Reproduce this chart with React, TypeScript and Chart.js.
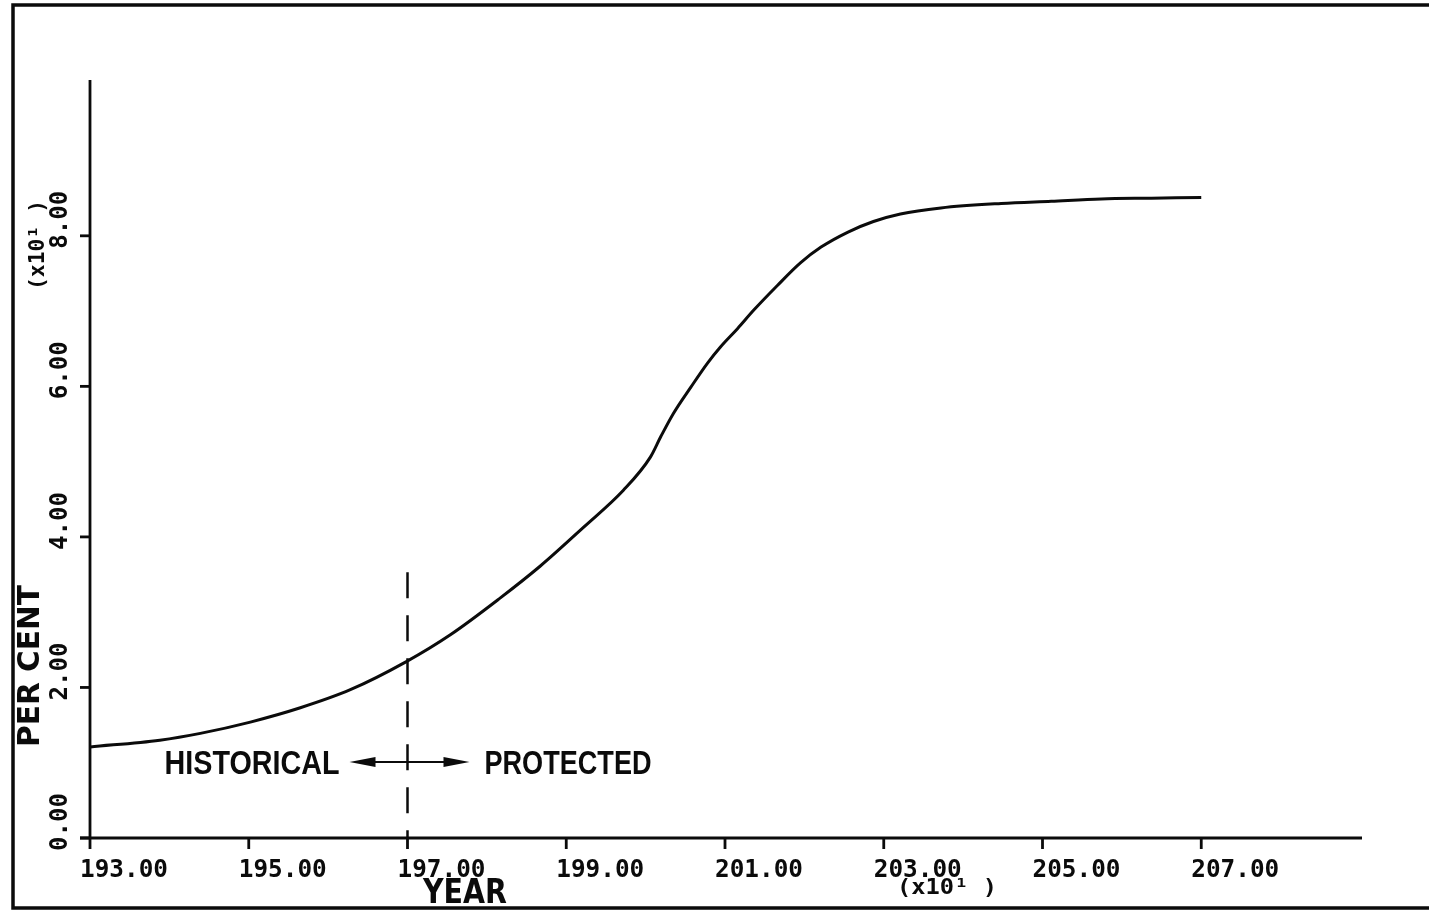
import { useEffect, useRef } from "react";
import { Chart, registerables } from "chart.js";

Chart.register(...registerables);

// Share of total (per cent) by year; the plot shows both axes in units of ten.
const years = [
  1930, 1938.8, 1943.9, 1950.2, 1956.5, 1962.8, 1969.8, 1975.4, 1981.7, 1986.7,
  1992.2, 1997.2, 2000.6, 2001.9, 2003.5, 2005.7, 2007.8, 2009.4, 2011.6, 2013.6,
  2016.6, 2019.5, 2022.1, 2025.5, 2028.7, 2032.1, 2037.2, 2044.8, 2051.1, 2057.4,
  2063.7, 2070,
];
const perCent = [
  12.1, 13.0, 13.9, 15.4, 17.3, 19.7, 23.4, 27.0, 31.9, 36.1,
  41.3, 46.2, 50.6, 53.3, 56.4, 59.9, 63.1, 65.2, 67.7, 70.1,
  73.4, 76.4, 78.5, 80.5, 81.9, 82.9, 83.7, 84.3, 84.6, 84.9,
  85.0, 85.1,
];

const xTicks = [1930, 1950, 1970, 1990, 2010, 2030, 2050, 2070];
const yTicks = [0, 20, 40, 60, 80];

// Boundary between the recorded and the projected part of the series.
const splitYear = 1970;
const splitTop = 35.3;

const INK = "#0b0b0b";
const MONO = "'DejaVu Sans Mono', monospace";
const SANS = "'Liberation Sans', Arial, sans-serif";
const PLOT = "'DejaVu Sans', sans-serif";

const fmt = (v: number) => (v / 10).toFixed(2);

function stretchText(
  ctx: CanvasRenderingContext2D,
  text: string,
  x: number,
  y: number,
  width: number
) {
  const w = ctx.measureText(text).width;
  ctx.save();
  ctx.translate(x, y);
  ctx.scale(width / w, 1);
  ctx.fillText(text, 0, 0);
  ctx.restore();
}

const plotterFrame = {
  id: "plotterFrame",
  afterDraw(chart: any) {
    const { ctx, chartArea, scales } = chart;
    const xs = scales.x;
    const ys = scales.y;
    const W = chart.width;
    ctx.save();
    ctx.strokeStyle = INK;
    ctx.fillStyle = INK;
    ctx.lineCap = "butt";

    // page frame
    ctx.lineWidth = 3.5;
    ctx.beginPath();
    ctx.moveTo(W, 5);
    ctx.lineTo(13, 5);
    ctx.lineTo(13, 908);
    ctx.lineTo(W, 908);
    ctx.stroke();

    const x0 = chartArea.left;
    const yBase = ys.getPixelForValue(0);

    // axes
    ctx.lineWidth = 2.8;
    ctx.beginPath();
    ctx.moveTo(x0, chartArea.top);
    ctx.lineTo(x0, yBase);
    ctx.moveTo(x0 - 10, yBase);
    ctx.lineTo(chartArea.right + 2, yBase);
    ctx.stroke();

    // x ticks and labels
    ctx.font = `bold 24px ${MONO}`;
    ctx.textAlign = "left";
    ctx.textBaseline = "alphabetic";
    xTicks.forEach((v) => {
      const px = xs.getPixelForValue(v);
      ctx.beginPath();
      ctx.moveTo(px, yBase);
      ctx.lineTo(px, yBase + 11);
      ctx.stroke();
      stretchText(ctx, fmt(v), px - 10, 877, 88);
    });

    // y ticks and labels (rotated)
    yTicks.forEach((v) => {
      const py = ys.getPixelForValue(v);
      ctx.beginPath();
      ctx.moveTo(x0 - 10, py);
      ctx.lineTo(x0, py);
      ctx.stroke();
      ctx.save();
      ctx.translate(61, py + 13);
      ctx.rotate(-Math.PI / 2);
      ctx.textAlign = "left";
      ctx.textBaseline = "middle";
      stretchText(ctx, fmt(v), 0, 0, 58);
      ctx.restore();
    });

    // scale multipliers
    ctx.font = `bold 21px ${MONO}`;
    ctx.textAlign = "left";
    ctx.textBaseline = "alphabetic";
    stretchText(ctx, "(x10\u00b9 )", 897, 894, 100);
    ctx.save();
    ctx.translate(39, 290);
    ctx.rotate(-Math.PI / 2);
    ctx.textBaseline = "middle";
    stretchText(ctx, "(x10\u00b9 )", 0, 0, 90);
    ctx.restore();

    // axis titles
    ctx.font = `bold 34px ${PLOT}`;
    ctx.textBaseline = "alphabetic";
    stretchText(ctx, "YEAR", 423, 903, 84);
    ctx.save();
    ctx.translate(31, 747);
    ctx.rotate(-Math.PI / 2);
    ctx.font = `bold 30px ${PLOT}`;
    ctx.textBaseline = "middle";
    stretchText(ctx, "PER CENT", 0, 0, 162);
    ctx.restore();

    // dashed divider
    const sx = xs.getPixelForValue(splitYear);
    ctx.lineWidth = 2.5;
    ctx.setLineDash([26, 17]);
    ctx.beginPath();
    ctx.moveTo(sx, ys.getPixelForValue(splitTop));
    ctx.lineTo(sx, yBase);
    ctx.stroke();
    ctx.setLineDash([]);

    // double-headed arrow
    const ay = 762;
    const left = sx - 58;
    const right = sx + 62;
    ctx.lineWidth = 2;
    ctx.beginPath();
    ctx.moveTo(left + 20, ay);
    ctx.lineTo(right - 20, ay);
    ctx.stroke();
    ctx.beginPath();
    ctx.moveTo(left, ay);
    ctx.lineTo(left + 26, ay - 5);
    ctx.lineTo(left + 26, ay + 5);
    ctx.closePath();
    ctx.moveTo(right, ay);
    ctx.lineTo(right - 26, ay - 5);
    ctx.lineTo(right - 26, ay + 5);
    ctx.closePath();
    ctx.fill();

    // region labels
    ctx.font = `bold 33px ${SANS}`;
    ctx.textBaseline = "alphabetic";
    stretchText(ctx, "HISTORICAL", sx - 243, 774, 175);
    stretchText(ctx, "PROTECTED", sx + 77, 774, 167);

    ctx.restore();
  },
};

export default function App() {
  const canvasRef = useRef<HTMLCanvasElement | null>(null);

  useEffect(() => {
    const canvas = canvasRef.current;
    if (!canvas) return;
    const chart = new Chart(canvas, {
      type: "line",
      data: {
        datasets: [
          {
            data: years.map((yr, i) => ({ x: yr, y: perCent[i] })),
            borderColor: INK,
            borderWidth: 3,
            pointRadius: 0,
            cubicInterpolationMode: "monotone",
            fill: false,
          },
        ],
      },
      options: {
        responsive: false,
        animation: false,
        devicePixelRatio: 1,
        layout: { padding: { left: 90, right: 69, top: 80, bottom: 74 } },
        scales: {
          x: { type: "linear", min: 1930, max: 2090, display: false },
          y: { type: "linear", min: 0, max: 100.7, display: false },
        },
        plugins: {
          legend: { display: false },
          tooltip: { enabled: false },
        },
      },
      plugins: [plotterFrame],
    });
    return () => chart.destroy();
  }, []);

  return (
    <div style={{ position: "fixed", left: 0, top: 0, width: 1429, height: 912, background: "#fff" }}>
      <canvas ref={canvasRef} width={1429} height={912} style={{ display: "block" }} />
    </div>
  );
}
